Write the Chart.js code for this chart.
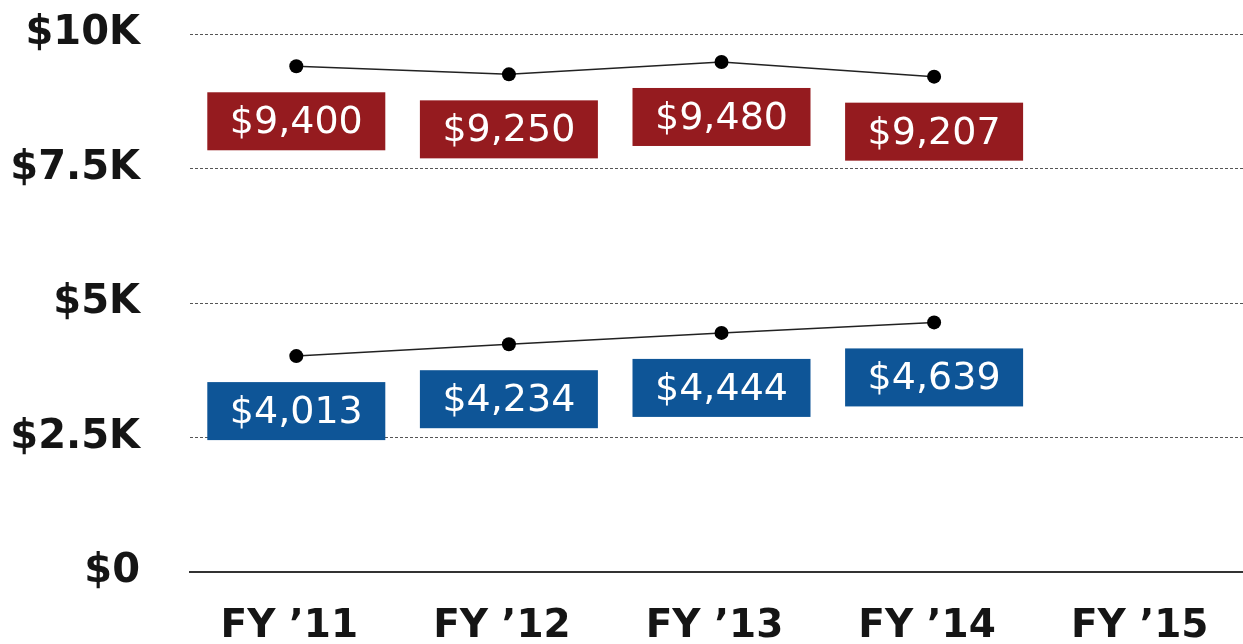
<!DOCTYPE html>
<html>
<head>
<meta charset="utf-8">
<script src="https://cdn.jsdelivr.net/npm/chart.js@4"></script>
<style>
  html, body { margin: 0; padding: 0; background: #fff; overflow: hidden; }
  #wrap { width: 1260px; height: 644px; }
</style>
</head>
<body>
<div id="wrap"><canvas id="c" width="1260" height="644"></canvas></div>
<script>
const categories = ["FY \u201911", "FY \u201912", "FY \u201913", "FY \u201914", "FY \u201915"];
const highSeries = [9400, 9250, 9480, 9207, null];
const lowSeries = [4013, 4234, 4444, 4639, null];
const yTickValues = [0, 2500, 5000, 7500, 10000];
const yTickLabels = ["$0", "$2.5K", "$5K", "$7.5K", "$10K"];
const boxColors = ["#951b1f", "#0e5597"];

const labelBoxes = {
  id: "labelBoxes",
  afterDatasetsDraw(chart) {
    const ctx = chart.ctx;
    chart.data.datasets.forEach((ds, di) => {
      const meta = chart.getDatasetMeta(di);
      meta.data.forEach((pt, i) => {
        const v = ds.data[i];
        if (v === null || v === undefined) return;
        const w = 178, h = 58;
        const cx = pt.x, cy = pt.y + 55;
        ctx.save();
        ctx.fillStyle = boxColors[di];
        ctx.fillRect(cx - w / 2, cy - h / 2, w, h);
        ctx.fillStyle = "#ffffff";
        ctx.font = "38px 'DejaVu Sans'";
        ctx.textAlign = "center";
        ctx.textBaseline = "middle";
        ctx.fillText("$" + v.toLocaleString("en-US"), cx, cy + 2);
        ctx.restore();
      });
    });
  }
};

new Chart(document.getElementById("c"), {
  type: "line",
  data: {
    labels: categories,
    datasets: [
      { data: highSeries, borderColor: "#222", borderWidth: 1.5, pointRadius: 7,
        pointBackgroundColor: "#000", pointBorderColor: "#000", pointBorderWidth: 0, tension: 0 },
      { data: lowSeries, borderColor: "#222", borderWidth: 1.5, pointRadius: 7,
        pointBackgroundColor: "#000", pointBorderColor: "#000", pointBorderWidth: 0, tension: 0 }
    ]
  },
  options: {
    responsive: false,
    animation: false,
    layout: { padding: { top: 34, right: 4, left: 0, bottom: 0 } },
    plugins: { legend: { display: false }, tooltip: { enabled: false } },
    scales: {
      x: {
        offset: true,
        grid: { display: false, drawTicks: false },
        border: { display: true, color: "#333", width: 2 },
        ticks: { color: "#151515", font: { family: "DejaVu Sans", weight: "bold", size: 39 }, padding: 31, labelOffset: -7, maxRotation: 0, autoSkip: false },
        afterFit(scale) { scale.height = 72; scale.paddingLeft = 0; scale.paddingRight = 0; }
      },
      y: {
        min: 0, max: 10000,
        afterBuildTicks(scale) { scale.ticks = yTickValues.map(v => ({ value: v })); },
        grid: {
          drawTicks: false, lineWidth: 1,
          color: ctx => ctx.index === 0 ? "rgba(0,0,0,0)" : "#555"
        },
        border: { display: false, dash: [3, 2] },
        ticks: {
          color: "#151515", font: { family: "DejaVu Sans", weight: "bold", size: 40 }, padding: 50,
          callback: (v, i) => yTickLabels[i]
        },
        afterFit(scale) { scale.width = 190; scale.paddingTop = 0; scale.paddingBottom = 0; }
      }
    }
  },
  plugins: [labelBoxes]
});
</script>
</body>
</html>
